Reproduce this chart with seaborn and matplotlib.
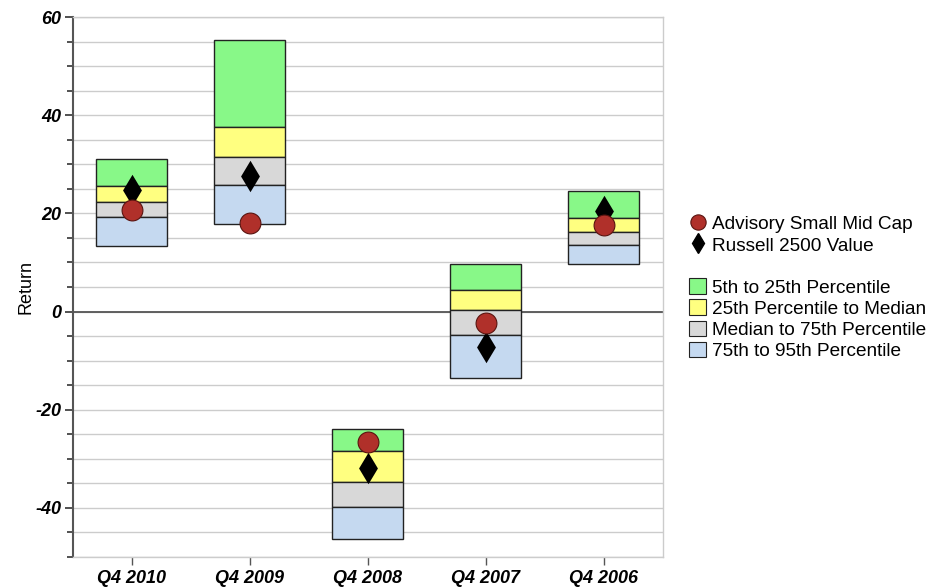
import numpy as np
import pandas as pd
import matplotlib
matplotlib.use('Agg')
import matplotlib.pyplot as plt
from matplotlib.lines import Line2D
from matplotlib.patches import Patch
import seaborn as sns

# dados
trimestres = ['Q4 2010', 'Q4 2009', 'Q4 2008', 'Q4 2007', 'Q4 2006']
p5 = [31.0, 55.3, -23.9, 9.6, 24.5]
p25 = [25.6, 37.5, -28.4, 4.4, 19.1]
mediana = [22.3, 31.5, -34.8, 0.4, 16.2]
p75 = [19.3, 25.7, -39.8, -4.7, 13.5]
p95 = [13.4, 17.8, -46.4, -13.6, 9.6]
advisory = [20.7, 18.0, -26.6, -2.4, 17.7]
russell = [24.8, 27.7, -31.9, -7.3, 20.4]

nomes_faixas = ['5th to 25th Percentile', '25th Percentile to Median',
                'Median to 75th Percentile', '75th to 95th Percentile']
cores_faixas = ['#88F888', '#FFFF80', '#D8D8D8', '#C5D9F0']

sns.set_style('white')
plt.rcParams['font.family'] = ['Liberation Sans', 'DejaVu Sans']
plt.rcParams['axes.unicode_minus'] = False

fig = plt.figure(figsize=(9.51, 5.88), dpi=100)
ax = fig.add_axes([0.0764, 0.0527, 0.6206, 0.9183])

# cada faixa de percentil e uma barra flutuante (bottom = limite inferior)
limites = [p5, p25, mediana, p75, p95]
for i in range(4):
    topo = np.array(limites[i])
    base = np.array(limites[i + 1])
    df = pd.DataFrame({'trimestre': trimestres, 'altura': topo - base})
    sns.barplot(data=df, x='trimestre', y='altura', bottom=base, color=cores_faixas[i],
                saturation=1, width=0.6, edgecolor='#222222', linewidth=1.0, ax=ax, zorder=2)

df_pontos = pd.DataFrame({'trimestre': trimestres, 'advisory': advisory, 'russell': russell})
sns.stripplot(data=df_pontos, x='trimestre', y='russell', jitter=False, marker='d', size=16,
              color='black', linewidth=0, ax=ax, zorder=4)
sns.stripplot(data=df_pontos, x='trimestre', y='advisory', jitter=False, marker='o', size=15,
              color='#B0302A', edgecolor='#5a1410', linewidth=0.8, ax=ax, zorder=5)

ax.set_xlim(-0.5, 4.5)
ax.set_ylim(-50, 60)
ax.set_yticks(range(-40, 61, 20))
ax.set_yticks(range(-50, 61, 5), minor=True)
ax.set_axisbelow(True)
ax.grid(True, which='both', axis='y', color='#cccccc', linewidth=1.0)
ax.axhline(0, color='#555555', linewidth=1.3, zorder=1.5)

for lado in ['top', 'right', 'bottom']:
    ax.spines[lado].set_color('#cccccc')
    ax.spines[lado].set_linewidth(1.0)
ax.spines['left'].set_color('#555555')
ax.spines['left'].set_linewidth(1.5)

ax.tick_params(axis='y', which='major', length=6, width=1.2, color='#333333', left=True, pad=2,
               labelcolor='black')
ax.tick_params(axis='y', which='minor', length=4, width=1.2, color='#333333', left=True)
ax.tick_params(axis='x', length=6, width=1.0, color='#555555', bottom=True, pad=3,
               labelcolor='black')
for rotulo in ax.get_xticklabels() + ax.get_yticklabels():
    rotulo.set_fontsize(13)
    rotulo.set_fontweight('bold')
    rotulo.set_fontstyle('italic')

ax.set_xlabel('')
ax.set_ylabel('Return', fontsize=13, labelpad=1, color='black')

handles = [
    Line2D([], [], marker='o', linestyle='none', markersize=11, markerfacecolor='#B0302A',
           markeredgecolor='#5a1410', markeredgewidth=0.8),
    Line2D([], [], marker='d', linestyle='none', markersize=10, color='black'),
    Line2D([], [], linestyle='none'),
]
rotulos = ['Advisory Small Mid Cap', 'Russell 2500 Value', '']
for cor, nome in zip(cores_faixas, nomes_faixas):
    handles.append(Patch(facecolor=cor, edgecolor='#222222', linewidth=0.8))
    rotulos.append(nome)

leg = fig.legend(handles, rotulos, loc='center left', bbox_to_anchor=(689 / 951, 0.511),
                 frameon=False, fontsize=13.7, handlelength=0.9, handleheight=0.9,
                 handletextpad=0.3, labelspacing=0.14, borderpad=0, borderaxespad=0)
for t in leg.get_texts():
    t.set_color('black')

fig.savefig('out.png', dpi=100)
